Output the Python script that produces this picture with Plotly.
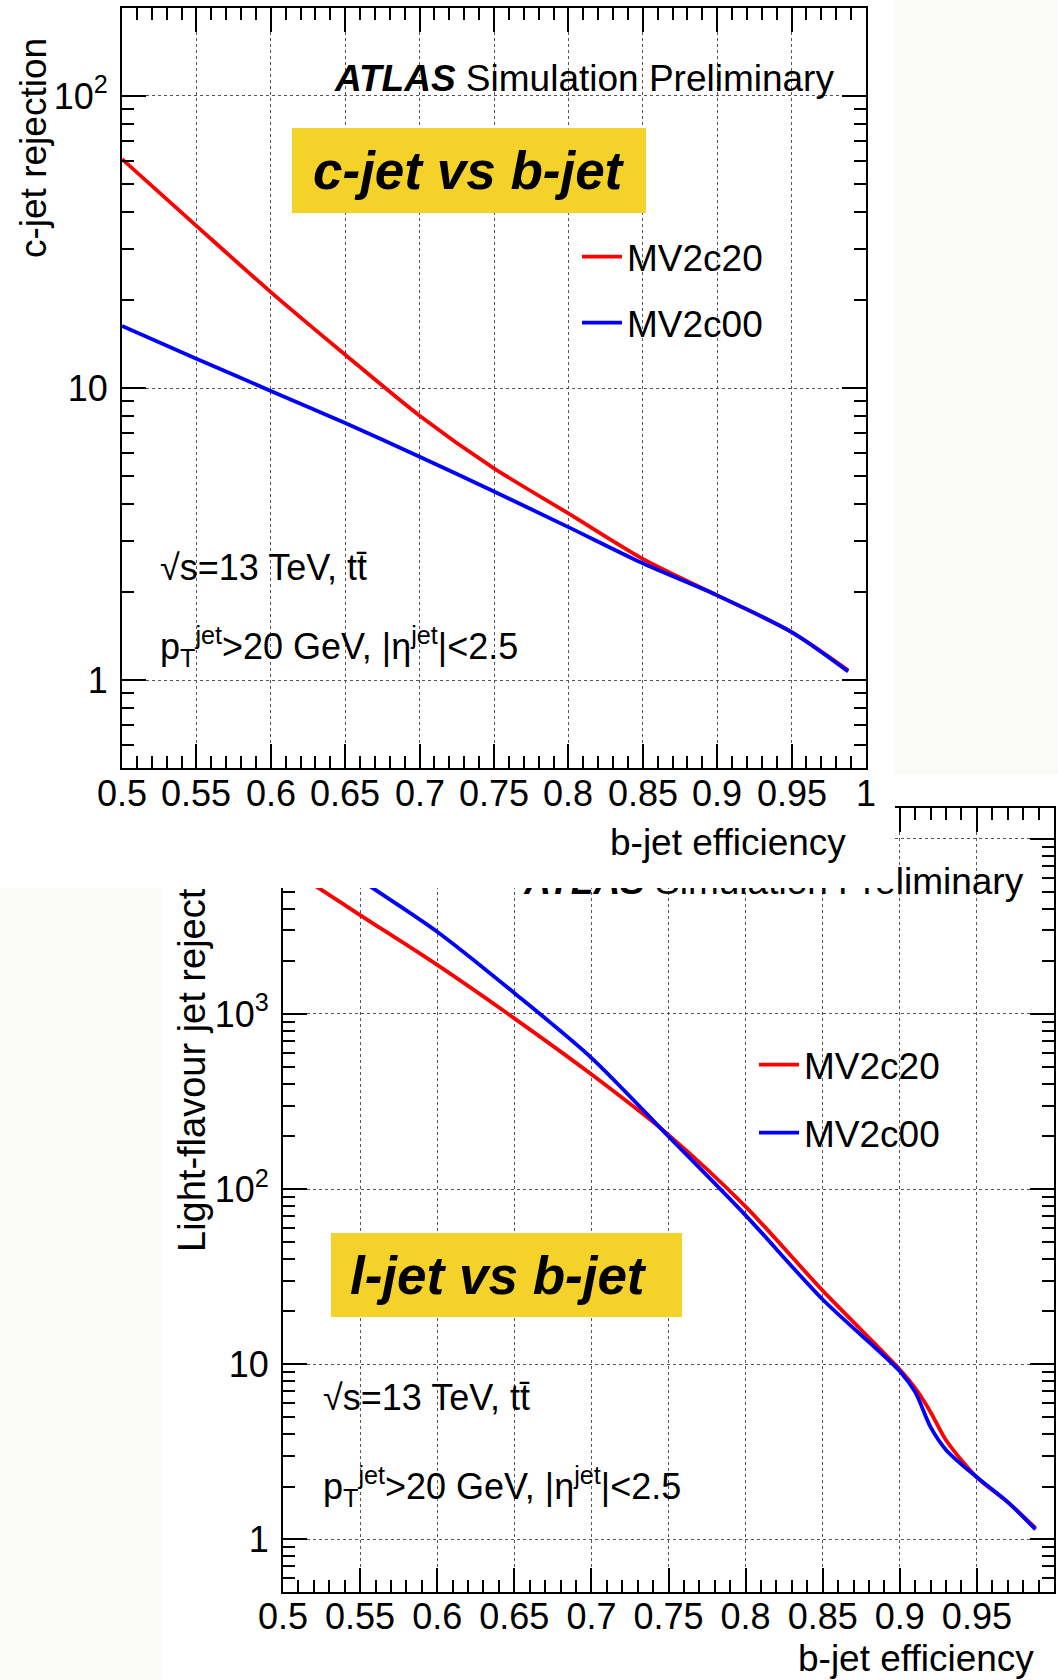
import math
import plotly.graph_objects as go

W, H = 1058, 1680
FONT = "Liberation Sans, Arial, Helvetica, sans-serif"


def px(x):
    return x / W


def py(y):
    return 1 - y / H


# ---------------- data: c-jet rejection vs b-jet efficiency ----------------
eff_c = [0.5, 0.55, 0.6, 0.65, 0.7, 0.75, 0.8, 0.85, 0.9, 0.95, 0.988]
c_rej_mv2c20 = [60.8, 35.9, 21.3, 13.0, 8.04, 5.31, 3.72, 2.6, 1.95, 1.46, 1.08]
c_rej_mv2c00 = [16.3, 12.6, 9.77, 7.59, 5.82, 4.42, 3.34, 2.51, 1.95, 1.46, 1.07]

# ---------------- data: light-flavour jet rejection vs b-jet efficiency ----------------
eff_l_mv2c20 = [0.5, 0.523, 0.55, 0.6, 0.65, 0.7, 0.75, 0.8, 0.85,
                0.9, 0.91, 0.92, 0.93, 0.95, 0.97, 0.988]
l_rej_mv2c20 = [7080, 5250, 3670, 1905, 944, 452, 204, 79.4, 26.3,
                9.33, 7.29, 5.32, 3.68, 2.26, 1.63, 1.16]
eff_l_mv2c00 = [0.5, 0.558, 0.6, 0.65, 0.7, 0.75, 0.8, 0.85, 0.9, 0.91, 0.92,
                0.93, 0.95, 0.97, 0.988]
l_rej_mv2c00 = [11500, 5250, 2950, 1318, 562, 200, 70.8, 23.4, 9.12, 6.92, 4.37,
                3.24, 2.26, 1.63, 1.14]

series_names = ["MV2c20", "MV2c00"]
series_colors = ["#ff0000", "#0000ff"]

# ---------------- tick labels ----------------
x_tick_vals = [0.5, 0.55, 0.6, 0.65, 0.7, 0.75, 0.8, 0.85, 0.9, 0.95, 1.0]
x_tick_text = ["0.5", "0.55", "0.6", "0.65", "0.7", "0.75", "0.8", "0.85", "0.9", "0.95", "1"]
c_y_tickvals = [1, 10, 100]
c_y_ticktext = ["1", "10", "10<sup>2</sup>"]
l_y_tickvals = [1, 10, 100, 1000, 10000]
l_y_ticktext = ["1", "10", "10<sup>2</sup>", "10<sup>3</sup>", "10<sup>4</sup>"]

c_y_range = [0.5, 200]
l_y_range = [0.5, 15000]


def log_minor(lo, hi):
    vals = []
    for k in range(-2, 6):
        for m in range(2, 10):
            v = m * 10 ** k
            if lo <= v <= hi:
                vals.append(v)
    return vals


fig = go.Figure()

# top panel traces
for name, col, ys in zip(series_names, series_colors, [c_rej_mv2c20, c_rej_mv2c00]):
    fig.add_trace(go.Scatter(
        x=eff_c, y=ys, mode="lines", name=name,
        line=dict(color=col, width=3.8, shape="spline", smoothing=0.8),
        xaxis="x", yaxis="y", legend="legend", legendgroup="top" + name,
        hoverinfo="skip"))

# bottom panel traces
for name, col, xs, ys in zip(series_names, series_colors,
                             [eff_l_mv2c20, eff_l_mv2c00],
                             [l_rej_mv2c20, l_rej_mv2c00]):
    fig.add_trace(go.Scatter(
        x=xs, y=ys, mode="lines", name=name,
        line=dict(color=col, width=3.8, shape="spline", smoothing=0.8),
        xaxis="x2", yaxis="y2", legend="legend2", legendgroup="bot" + name,
        hoverinfo="skip"))

# bottom panel label (partly hidden by the overlapping top panel)
fig.add_trace(go.Scatter(
    x=[0.98], y=[5460], mode="text",
    text=["<b><i>ATLAS</i></b> Simulation Preliminary"],
    textposition="middle left",
    textfont=dict(family=FONT, size=37, color="black"),
    xaxis="x2", yaxis="y2", showlegend=False, hoverinfo="skip"))

axis_common = dict(
    showline=True, linecolor="black", linewidth=2, mirror="allticks",
    ticks="inside", ticklen=24, tickwidth=2, tickcolor="black",
    showgrid=True, gridcolor="#555555", griddash="dot", gridwidth=1,
    zeroline=False, automargin=False,
    tickfont=dict(family=FONT, size=36, color="black"),
)
x_minor = dict(ticks="inside", dtick=0.01, tick0=0.5, ticklen=12, tickwidth=2,
               tickcolor="black", showgrid=False)

fig.update_layout(
    width=W, height=H,
    margin=dict(l=0, r=0, t=0, b=0, pad=0, autoexpand=False),
    paper_bgcolor="#fbfcf8", plot_bgcolor="white",
    font=dict(family=FONT, color="black"),
    xaxis=dict(domain=[px(122), px(866)], range=[0.5, 1.0], anchor="y",
               tickmode="array", tickvals=x_tick_vals, showticklabels=False,
               minor=x_minor, **axis_common),
    yaxis=dict(domain=[py(768), py(8)], type="log",
               range=[math.log10(c_y_range[0]), math.log10(c_y_range[1])],
               anchor="x", tickmode="array", tickvals=c_y_tickvals,
               ticktext=c_y_ticktext, ticklabelstandoff=5,
               minor=dict(ticks="inside", tickmode="array",
                          tickvals=log_minor(*c_y_range), ticklen=12,
                          tickwidth=2, tickcolor="black", showgrid=False),
               **axis_common),
    xaxis2=dict(domain=[px(283), px(1054)], range=[0.5, 1.0], anchor="y2",
                tickmode="array", tickvals=x_tick_vals, ticktext=x_tick_text,
                ticklabelstandoff=-8, minor=x_minor, **axis_common),
    yaxis2=dict(domain=[py(1592), py(808)], type="log",
                range=[math.log10(l_y_range[0]), math.log10(l_y_range[1])],
                anchor="x2", tickmode="array", tickvals=l_y_tickvals,
                ticktext=l_y_ticktext, ticklabelstandoff=5,
                minor=dict(ticks="inside", tickmode="array",
                           tickvals=log_minor(*l_y_range), ticklen=12,
                           tickwidth=2, tickcolor="black", showgrid=False),
                **axis_common),
    legend=dict(x=px(577), y=py(290), xanchor="left", yanchor="middle",
                bgcolor="rgba(0,0,0,0)", borderwidth=0,
                font=dict(family=FONT, size=37, color="black"),
                traceorder="grouped", tracegroupgap=15, itemwidth=40),
    legend2=dict(x=px(754), y=py(1099), xanchor="left", yanchor="middle",
                 bgcolor="rgba(0,0,0,0)", borderwidth=0,
                 font=dict(family=FONT, size=37, color="black"),
                 traceorder="grouped", tracegroupgap=17, itemwidth=40),
    showlegend=True,
)

shapes = [
    # the two pasted panels
    dict(type="rect", xref="paper", yref="paper", layer="below",
         x0=px(162), x1=px(1058), y0=py(1680), y1=py(775),
         fillcolor="white", line=dict(width=0)),
    dict(type="rect", xref="paper", yref="paper", layer="below",
         x0=px(0), x1=px(895), y0=py(888), y1=py(0),
         fillcolor="white", line=dict(width=0)),
    # top panel overlapping the bottom one
    dict(type="rect", xref="paper", yref="paper", layer="above",
         x0=px(0), x1=px(895), y0=py(888), y1=py(771),
         fillcolor="white", line=dict(width=0)),
    # yellow labels
    dict(type="rect", xref="paper", yref="paper", layer="above",
         x0=px(292), x1=px(646), y0=py(213), y1=py(128),
         fillcolor="#f5d229", line=dict(width=0)),
    dict(type="rect", xref="paper", yref="paper", layer="above",
         x0=px(331), x1=px(682), y0=py(1317), y1=py(1233),
         fillcolor="#f5d229", line=dict(width=0)),
]
fig.update_layout(shapes=shapes)

ann = []
# top x tick labels (drawn as text above the overlap)
for v, t in zip(x_tick_vals, x_tick_text):
    ann.append(dict(x=v, y=py(793), xref="x", yref="paper", text=t,
                    showarrow=False, xanchor="center", yanchor="middle",
                    font=dict(family=FONT, size=36, color="black")))
ann += [
    dict(x=px(848), y=py(842), xref="paper", yref="paper", text="b-jet efficiency",
         showarrow=False, xanchor="right", yanchor="middle",
         font=dict(family=FONT, size=37)),
    dict(x=px(1036), y=py(1658), xref="paper", yref="paper", text="b-jet efficiency",
         showarrow=False, xanchor="right", yanchor="middle",
         font=dict(family=FONT, size=37)),
    dict(x=px(33), y=py(148), xref="paper", yref="paper", text="c-jet rejection",
         textangle=-90, showarrow=False, xanchor="center", yanchor="middle",
         font=dict(family=FONT, size=37)),
    dict(x=px(192), y=py(1070), xref="paper", yref="paper",
         text="Light-flavour jet reject",
         textangle=-90, showarrow=False, xanchor="center", yanchor="middle",
         font=dict(family=FONT, size=38)),
    dict(x=px(836), y=py(78), xref="paper", yref="paper",
         text="<b><i>ATLAS</i></b> Simulation Preliminary",
         showarrow=False, xanchor="right", yanchor="middle",
         font=dict(family=FONT, size=37)),
    dict(x=px(311), y=py(171), xref="paper", yref="paper",
         text="<b><i>c-jet vs b-jet</i></b>",
         showarrow=False, xanchor="left", yanchor="middle",
         font=dict(family=FONT, size=53)),
    dict(x=px(348), y=py(1275), xref="paper", yref="paper",
         text="<b><i>l-jet vs b-jet</i></b>",
         showarrow=False, xanchor="left", yanchor="middle",
         font=dict(family=FONT, size=53)),
    dict(x=px(158), y=py(567), xref="paper", yref="paper",
         text="√s=13 TeV, tt̄",
         showarrow=False, xanchor="left", yanchor="middle",
         font=dict(family=FONT, size=36)),
    dict(x=px(158), y=py(646), xref="paper", yref="paper",
         text="p<sub>T</sub><sup>jet</sup>&gt;20 GeV, |η<sup>jet</sup>|&lt;2.5",
         showarrow=False, xanchor="left", yanchor="middle",
         font=dict(family=FONT, size=36)),
    dict(x=px(321), y=py(1397), xref="paper", yref="paper",
         text="√s=13 TeV, tt̄",
         showarrow=False, xanchor="left", yanchor="middle",
         font=dict(family=FONT, size=36)),
    dict(x=px(321), y=py(1486), xref="paper", yref="paper",
         text="p<sub>T</sub><sup>jet</sup>&gt;20 GeV, |η<sup>jet</sup>|&lt;2.5",
         showarrow=False, xanchor="left", yanchor="middle",
         font=dict(family=FONT, size=36)),
]
fig.update_layout(annotations=ann)

fig.write_html("out.html")
